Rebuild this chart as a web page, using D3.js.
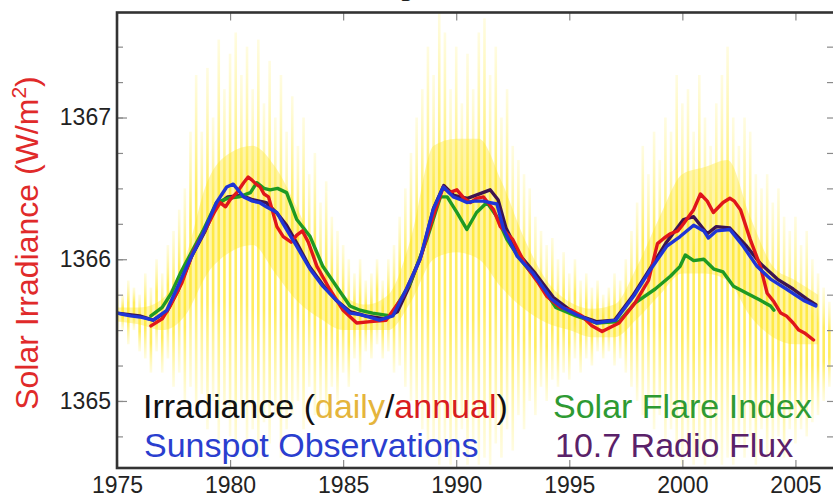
<!DOCTYPE html>
<html><head><meta charset="utf-8">
<script src="https://cdn.jsdelivr.net/npm/d3@7"></script>
<style>
html,body{margin:0;padding:0;background:#fff;overflow:hidden}
svg{display:block;font-family:"Liberation Sans",Arial,Helvetica,sans-serif}
</style></head><body>
<svg id="chart" width="833" height="503"></svg>
<script>
// ---------------- DATA ----------------
const titleText = "Solar Cycle Variations";
const yAxisTitle = ["Solar Irradiance (W/m", "2", ")"];
const xTickValues = [1975, 1980, 1985, 1990, 1995, 2000, 2005];
const yTickValues = [1365, 1366, 1367];
const yMinorTickValues = [1364.75, 1365, 1365.25, 1365.5, 1365.75, 1366, 1366.25, 1366.5, 1366.75, 1367, 1367.25, 1367.5];
const legendLabels = ["Irradiance (", "daily", "/", "annual", ")", "Sunspot Observations", "Solar Flare Index", "10.7 Radio Flux"];

// daily irradiance: spike extent, sampled every quarter year from 1975.0
const dailyStart = 1975.0, dailyStep = 0.25;
const dailyHigh = [
 1365.8,1365.75,1365.85,1365.8, 1365.75,1365.9,1365.8,1366.0, 1365.9,1366.1,1366.2,1366.35,
 1366.5,1366.9,1367.3,1366.9, 1367.35,1367.0,1367.55,1367.2, 1367.45,1367.6,1367.3,1367.5,
 1367.2,1367.55,1367.1,1367.4, 1367.0,1367.3,1366.9,1367.15, 1366.8,1367.0,1366.6,1366.75,
 1366.4,1366.55,1366.3,1366.2, 1366.1,1366.0,1365.9,1366.0, 1365.85,1365.9,1366.0,1365.85,
 1366.0,1366.1,1366.3,1366.5, 1366.75,1367.0,1367.2,1367.5, 1367.3,1367.75,1367.6,1367.2,
 1367.5,1367.1,1367.45,1367.2, 1367.6,1367.7,1367.3,1367.5, 1367.0,1367.2,1366.8,1366.7,
 1366.6,1366.5,1366.3,1366.2, 1366.1,1366.15,1366.0,1366.05, 1365.9,1366.0,1365.85,1365.9,
 1365.8,1365.85,1365.75,1365.8, 1365.9,1365.85,1366.0,1366.2, 1366.4,1366.8,1366.6,1366.9,
 1366.7,1367.0,1366.9,1367.3, 1367.1,1367.2,1366.9,1367.3, 1367.0,1366.8,1367.1,1367.3,
 1367.5,1367.0,1366.8,1367.0, 1366.9,1366.6,1366.5,1366.6, 1366.4,1366.5,1366.3,1366.2,
 1366.3,1366.1,1366.2,1366.0, 1365.9,1365.8,1365.7];
const dailyLow = [
 1365.45,1365.5,1365.4,1365.5, 1365.35,1365.3,1365.2,1365.35, 1365.2,1365.3,1365.1,1365.2,
 1365.0,1365.1,1364.9,1365.05, 1364.8,1365.0,1364.7,1364.9, 1364.75,1364.6,1364.9,1364.7,
 1364.8,1364.6,1364.85,1364.7, 1364.9,1364.6,1364.8,1364.9, 1365.0,1364.8,1365.1,1364.9,
 1365.0,1364.9,1365.1,1365.0, 1365.2,1365.1,1365.3,1365.2, 1365.35,1365.3,1365.4,1365.3,
 1365.35,1365.2,1365.25,1365.1, 1365.0,1364.9,1364.8,1364.6, 1364.7,1364.55,1364.7,1364.55,
 1364.6,1364.8,1364.55,1364.7, 1364.55,1364.6,1364.55,1364.7, 1364.6,1364.8,1364.65,1364.9,
 1364.8,1365.0,1364.9,1365.1, 1365.0,1365.15,1365.1,1365.2, 1365.15,1365.3,1365.2,1365.3,
 1365.25,1365.35,1365.3,1365.35, 1365.25,1365.3,1365.2,1365.1, 1365.0,1364.9,1365.0,1364.8,
 1364.9,1364.7,1364.8,1364.6, 1364.55,1364.7,1364.55,1364.6, 1364.55,1364.7,1364.6,1364.55,
 1364.6,1364.55,1364.7,1364.6, 1364.75,1364.55,1364.8,1364.6, 1364.7,1364.75,1364.6,1364.8,
 1364.7,1364.8,1364.75,1364.85, 1364.9,1365.0,1365.1];

// dense core of the daily scatter (yearly)
const bandYears = [1975,1976,1977,1978,1979,1980,1981,1982,1983,1984,1985,1986,1987,1988,1989,1990,1991,1992,1993,1994,1995,1996,1997,1998,1999,2000,2001,2002,2003,2004,2005,2006];
const bandHigh = [1365.66,1365.66,1365.72,1366.0,1366.55,1366.75,1366.8,1366.65,1366.35,1366.0,1365.75,1365.68,1365.75,1366.15,1366.8,1366.85,1366.85,1366.55,1366.15,1365.85,1365.7,1365.65,1365.68,1365.95,1366.3,1366.6,1366.65,1366.7,1366.3,1365.95,1365.85,1365.75];
const bandLow  = [1365.56,1365.54,1365.5,1365.6,1365.9,1366.05,1366.1,1365.9,1365.7,1365.58,1365.5,1365.5,1365.5,1365.7,1366.0,1366.05,1366.0,1365.8,1365.65,1365.55,1365.5,1365.45,1365.45,1365.58,1365.75,1365.9,1365.9,1365.85,1365.6,1365.45,1365.4,1365.4];

// annual irradiance (red)
const irrYears = [1976.5,1977.0,1977.35,1977.86,1978.36,1978.97,1979.3,1979.56,1979.8,1980.0,1980.3,1980.6,1980.8,1980.96,1981.15,1981.33,1981.5,1981.7,1982.07,1982.35,1982.7,1982.95,1983.2,1983.46,1983.84,1984.4,1985.0,1985.6,1986.2,1986.9,1987.66,1988.4,1988.98,1989.43,1989.7,1990.03,1990.35,1990.62,1990.9,1991.2,1991.45,1991.65,1991.95,1992.5,1993.1,1993.6,1994.0,1994.6,1995.1,1995.56,1996.0,1996.45,1997.2,1997.9,1998.5,1998.9,1999.2,1999.47,1999.8,2000.05,2000.5,2000.8,2001.1,2001.37,2001.8,2002.1,2002.3,2002.57,2003.0,2003.45,2003.75,2004.05,2004.35,2004.6,2004.9,2005.15,2005.4,2005.8];
const irrValues = [1365.53,1365.58,1365.67,1365.83,1366.05,1366.23,1366.33,1366.40,1366.37,1366.42,1366.47,1366.54,1366.58,1366.56,1366.53,1366.51,1366.46,1366.44,1366.23,1366.16,1366.12,1366.17,1366.2,1366.12,1365.95,1365.79,1365.64,1365.55,1365.56,1365.57,1365.74,1366.0,1366.30,1366.51,1366.47,1366.49,1366.43,1366.40,1366.43,1366.44,1366.39,1366.35,1366.23,1366.14,1365.95,1365.84,1365.74,1365.66,1365.64,1365.6,1365.53,1365.49,1365.55,1365.69,1365.85,1366.11,1366.15,1366.18,1366.2,1366.25,1366.35,1366.46,1366.41,1366.33,1366.40,1366.43,1366.41,1366.35,1366.14,1365.95,1365.76,1365.7,1365.62,1365.6,1365.55,1365.5,1365.48,1365.43];

// sunspot observations (blue)
const sunYears = [1975.0,1975.3,1975.6,1976.1,1976.6,1977.2,1977.64,1978.23,1978.8,1979.4,1979.85,1980.14,1980.4,1980.6,1981.0,1981.3,1981.6,1982.07,1982.35,1982.95,1983.54,1984.1,1984.7,1985.3,1985.75,1986.2,1986.6,1987.2,1987.8,1988.4,1988.98,1989.43,1989.87,1990.2,1990.47,1990.8,1991.2,1991.5,1991.8,1992.1,1992.7,1993.4,1994.2,1994.7,1995.3,1996.2,1997.05,1997.85,1998.6,1999.3,1999.9,2000.5,2000.95,2001.15,2001.5,2002.1,2002.7,2003.3,2003.9,2004.6,2005.36,2005.9];
const sunValues = [1365.62,1365.61,1365.60,1365.59,1365.57,1365.64,1365.79,1366.0,1366.18,1366.40,1366.51,1366.53,1366.48,1366.44,1366.41,1366.40,1366.37,1366.33,1366.25,1366.09,1365.93,1365.81,1365.71,1365.62,1365.61,1365.59,1365.57,1365.60,1365.79,1366.0,1366.35,1366.51,1366.44,1366.42,1366.40,1366.41,1366.41,1366.40,1366.39,1366.21,1366.02,1365.90,1365.72,1365.66,1365.61,1365.55,1365.57,1365.74,1365.93,1366.09,1366.16,1366.24,1366.20,1366.15,1366.20,1366.21,1366.09,1365.95,1365.86,1365.79,1365.71,1365.67];

// solar flare index (green)
const flareYears = [1976.5,1977.0,1977.4,1977.8,1978.2,1978.8,1979.4,1979.9,1980.4,1980.9,1981.18,1981.5,1981.77,1982.1,1982.5,1982.95,1983.54,1984.1,1984.7,1985.3,1985.75,1986.3,1987.1,1987.96,1988.7,1989.3,1989.6,1990.03,1990.47,1990.9,1991.36,1991.8,1992.24,1992.83,1993.7,1994.4,1995.3,1996.2,1997.2,1997.9,1998.8,1999.47,1999.9,2000.13,2000.5,2000.95,2001.4,2001.8,2002.26,2002.85,2003.45,2003.9,2004.05];
const flareValues = [1365.6,1365.66,1365.76,1365.9,1366.02,1366.2,1366.4,1366.43,1366.44,1366.47,1366.54,1366.5,1366.49,1366.5,1366.47,1366.28,1366.16,1365.95,1365.81,1365.67,1365.64,1365.62,1365.6,1365.83,1366.14,1366.44,1366.44,1366.33,1366.21,1366.33,1366.40,1366.30,1366.14,1366.0,1365.83,1365.66,1365.6,1365.55,1365.56,1365.69,1365.79,1365.88,1365.95,1366.03,1365.99,1366.0,1365.93,1365.91,1365.81,1365.76,1365.71,1365.67,1365.64];

// 10.7 cm radio flux (purple)
const radioYears = [1975.0,1976.0,1976.6,1977.2,1977.7,1978.3,1978.9,1979.4,1979.9,1980.5,1981.0,1981.6,1982.1,1982.5,1983.0,1983.5,1984.1,1984.7,1985.3,1986.0,1986.8,1987.4,1987.9,1988.5,1989.0,1989.45,1989.9,1990.5,1991.0,1991.5,1991.85,1992.2,1992.8,1993.5,1994.3,1995.3,1996.2,1997.0,1997.8,1998.6,1999.3,2000.05,2000.5,2001.1,2001.5,2002.1,2002.85,2003.45,2004.2,2004.9,2005.5,2005.9];
const radioValues = [1365.62,1365.6,1365.57,1365.63,1365.78,1366.02,1366.2,1366.38,1366.44,1366.45,1366.42,1366.4,1366.32,1366.24,1366.1,1365.95,1365.82,1365.71,1365.63,1365.6,1365.58,1365.63,1365.8,1366.05,1366.36,1366.52,1366.45,1366.43,1366.46,1366.49,1366.42,1366.22,1366.03,1365.9,1365.73,1365.61,1365.56,1365.57,1365.74,1365.94,1366.12,1366.28,1366.30,1366.18,1366.23,1366.22,1366.09,1365.97,1365.86,1365.79,1365.72,1365.68];

// ---------------- DRAW ----------------
const m = {left: 117, right: 835, top: 12.5, bottom: 468};
const x = d3.scaleLinear().domain([1975, 2006.75]).range([m.left, m.right]);
const y = d3.scaleLinear().domain([1364.527, 1367.741]).range([m.bottom, m.top]);
const svg = d3.select("#chart");
const defs = svg.append("defs");
defs.append("clipPath").attr("id", "clip").append("rect")
  .attr("x", m.left).attr("y", m.top).attr("width", m.right - m.left).attr("height", m.bottom - m.top);
const grad = defs.append("linearGradient").attr("id", "spike").attr("x1", 0).attr("y1", 0).attr("x2", 0).attr("y2", 1);
grad.append("stop").attr("offset", "0%").attr("stop-color", "#fff06a").attr("stop-opacity", 0.2);
grad.append("stop").attr("offset", "35%").attr("stop-color", "#ffe414").attr("stop-opacity", 0.68);
grad.append("stop").attr("offset", "65%").attr("stop-color", "#ffe414").attr("stop-opacity", 0.68);
grad.append("stop").attr("offset", "100%").attr("stop-color", "#fff06a").attr("stop-opacity", 0.2);

// title (mostly above the picture)
svg.append("text").attr("x", 480).attr("y", -9).attr("text-anchor", "middle")
  .attr("font-size", 46).attr("font-weight", "bold").attr("fill", "#222").text(titleText);

const plot = svg.append("g").attr("clip-path", "url(#clip)");

// daily band core
plot.append("path")
  .datum(bandYears.map((yr, i) => ({yr, hi: bandHigh[i], lo: bandLow[i]})))
  .attr("d", d3.area().x(d => x(d.yr)).y0(d => y(d.lo)).y1(d => y(d.hi)).curve(d3.curveMonotoneX))
  .attr("fill", "#ffe838").attr("opacity", 0.42);

// daily spikes
const daily = dailyHigh.map((h, i) => ({yr: dailyStart + i * dailyStep, hi: h, lo: dailyLow[i]}));
plot.selectAll("rect.spike").data(daily).join("rect").attr("class", "spike")
  .attr("x", d => x(d.yr) - 1.3).attr("width", 2.6)
  .attr("y", d => y(d.hi)).attr("height", d => y(d.lo) - y(d.hi))
  .attr("fill", "url(#spike)");

const line = d3.line().x(d => x(d[0])).y(d => y(d[1]));
function series(yrs, vals, color) {
  plot.append("path").datum(yrs.map((yr, i) => [yr, vals[i]]))
    .attr("d", line).attr("fill", "none").attr("stroke", color)
    .attr("stroke-width", 3.4).attr("stroke-linejoin", "round").attr("stroke-linecap", "round");
}
series(radioYears, radioValues, "#3d1450");
series(flareYears, flareValues, "#1f9a23");
series(irrYears, irrValues, "#e0161b");
series(sunYears, sunValues, "#1f35d6");

// ticks (inward)
const tickColor = "#8a8a8a";
svg.append("g").attr("transform", `translate(${m.left},0)`)
  .call(d3.axisRight(y).tickValues(yMinorTickValues).tickSize(6).tickFormat(""))
  .call(g => g.select(".domain").remove()).selectAll("line").attr("stroke", tickColor).attr("stroke-width", 1.2);
svg.append("g").attr("transform", `translate(${m.left},0)`)
  .call(d3.axisRight(y).tickValues(yTickValues).tickSize(10).tickFormat(""))
  .call(g => g.select(".domain").remove()).selectAll("line").attr("stroke", tickColor).attr("stroke-width", 1.2);
svg.append("g").attr("transform", `translate(${m.right},0)`)
  .call(d3.axisLeft(y).tickValues(yMinorTickValues).tickSize(8).tickFormat(""))
  .call(g => g.select(".domain").remove()).selectAll("line").attr("stroke", tickColor).attr("stroke-width", 1.2);
svg.append("g").attr("transform", `translate(0,${m.bottom})`)
  .call(d3.axisTop(x).tickValues(xTickValues).tickSize(8).tickFormat(""))
  .call(g => g.select(".domain").remove()).selectAll("line").attr("stroke", tickColor).attr("stroke-width", 1.2);
svg.append("g").attr("transform", `translate(0,${m.top})`)
  .call(d3.axisBottom(x).tickValues(xTickValues).tickSize(8).tickFormat(""))
  .call(g => g.select(".domain").remove()).selectAll("line").attr("stroke", tickColor).attr("stroke-width", 1.2);

// frame
svg.append("rect").attr("x", m.left).attr("y", m.top).attr("width", m.right - m.left).attr("height", m.bottom - m.top)
  .attr("fill", "none").attr("stroke", "#333").attr("stroke-width", 2.6);

// tick labels
const yl = svg.append("g").attr("transform", `translate(${m.left - 6},0)`)
  .call(d3.axisLeft(y).tickValues(yTickValues).tickSize(0).tickPadding(0).tickFormat(d3.format("d")));
yl.select(".domain").remove();
yl.selectAll("text").attr("font-size", 23).attr("fill", "#222").attr("font-family", null);
const xl = svg.append("g").attr("transform", `translate(0,${m.bottom + 9})`)
  .call(d3.axisBottom(x).tickValues(xTickValues).tickSize(0).tickPadding(0).tickFormat(d3.format("d")));
xl.select(".domain").remove();
xl.selectAll("text").attr("font-size", 23).attr("fill", "#222").attr("font-family", null);

// y-axis title
const yt = svg.append("text").attr("transform", "translate(38,243) rotate(-90)")
  .attr("text-anchor", "middle").attr("font-size", 32).attr("fill", "#e02a2a");
yt.append("tspan").text(yAxisTitle[0]);
yt.append("tspan").attr("dy", -12).attr("font-size", 21).text(yAxisTitle[1]);
yt.append("tspan").attr("dy", 12).text(yAxisTitle[2]);

// legend
const lg = svg.append("g").attr("font-size", 34);
const l1 = lg.append("text").attr("x", 143).attr("y", 418);
l1.append("tspan").attr("fill", "#111").text(legendLabels[0]);
l1.append("tspan").attr("fill", "#e5b53c").text(legendLabels[1]);
l1.append("tspan").attr("fill", "#111").text(legendLabels[2]);
l1.append("tspan").attr("fill", "#d81c20").text(legendLabels[3]);
l1.append("tspan").attr("fill", "#111").text(legendLabels[4]);
lg.append("text").attr("x", 144).attr("y", 457).attr("fill", "#2a3ecf").text(legendLabels[5]);
lg.append("text").attr("x", 553).attr("y", 418).attr("fill", "#2e9a33").text(legendLabels[6]);
lg.append("text").attr("x", 555).attr("y", 457).attr("fill", "#5a2169").text(legendLabels[7]);
</script>
</body></html>
